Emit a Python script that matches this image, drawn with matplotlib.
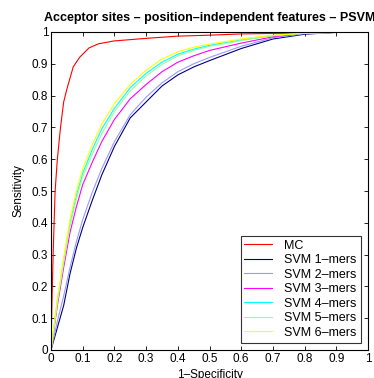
import matplotlib
matplotlib.use("Agg")
import matplotlib.pyplot as plt

plt.rcParams['font.family'] = ['Liberation Sans', 'DejaVu Sans']

mc_x = [0, 0.003, 0.007, 0.013, 0.02, 0.03, 0.04, 0.05, 0.07, 0.09, 0.12, 0.15, 0.2, 0.3, 0.4, 0.5, 0.6, 0.8, 1.0]
mc_y = [0, 0.15, 0.31, 0.50, 0.60, 0.70, 0.78, 0.82, 0.89, 0.92, 0.95, 0.963, 0.972, 0.98, 0.987, 0.99, 0.994, 0.997, 1.0]

svm_x = [0, 0.01, 0.02, 0.04, 0.06, 0.08, 0.1, 0.13, 0.16, 0.2, 0.25, 0.3, 0.35, 0.4, 0.45, 0.5, 0.6, 0.7, 0.8, 0.9, 1.0]
svm1_y = [0, 0.035, 0.07, 0.14, 0.24, 0.32, 0.385, 0.47, 0.55, 0.64, 0.73, 0.78, 0.83, 0.865, 0.89, 0.91, 0.948, 0.978, 0.993, 0.999, 1.0]
svm2_y = [0, 0.045, 0.09, 0.17, 0.26, 0.34, 0.41, 0.495, 0.57, 0.655, 0.74, 0.795, 0.84, 0.875, 0.9, 0.92, 0.955, 0.982, 0.995, 0.999, 1.0]
svm3_y = [0, 0.07, 0.14, 0.26, 0.37, 0.45, 0.52, 0.59, 0.655, 0.725, 0.79, 0.835, 0.875, 0.905, 0.925, 0.942, 0.965, 0.985, 0.996, 0.999, 1.0]
svm4_y = [0, 0.075, 0.155, 0.28, 0.40, 0.485, 0.555, 0.63, 0.695, 0.76, 0.825, 0.87, 0.905, 0.93, 0.946, 0.958, 0.975, 0.989, 0.996, 0.999, 1.0]
svm5_y = [0, 0.075, 0.15, 0.275, 0.39, 0.475, 0.545, 0.615, 0.68, 0.75, 0.815, 0.862, 0.898, 0.925, 0.942, 0.955, 0.973, 0.988, 0.996, 0.999, 1.0]
svm6_y = [0, 0.08, 0.16, 0.29, 0.41, 0.50, 0.57, 0.645, 0.71, 0.775, 0.835, 0.88, 0.915, 0.938, 0.952, 0.962, 0.978, 0.99, 0.996, 0.999, 1.0]

labels = ['MC', 'SVM 1\u2013mers', 'SVM 2\u2013mers', 'SVM 3\u2013mers', 'SVM 4\u2013mers', 'SVM 5\u2013mers', 'SVM 6\u2013mers']
colors = ['#ff0000', '#000080', '#9999ff', '#ff00ff', '#00ffff', '#99ff99', '#ffff00']
ticks = [0, 0.1, 0.2, 0.3, 0.4, 0.5, 0.6, 0.7, 0.8, 0.9, 1]
tick_labels = ['0', '0.1', '0.2', '0.3', '0.4', '0.5', '0.6', '0.7', '0.8', '0.9', '1']

fig = plt.figure(figsize=(3.74, 3.78), dpi=100)
ax = fig.add_axes([51/374, 1-350/378, 317/374, 318/378])

series = [(mc_x, mc_y)] + [(svm_x, y) for y in [svm1_y, svm2_y, svm3_y, svm4_y, svm5_y, svm6_y]]
for (xs, ys), lab, c in zip(series, labels, colors):
    ax.plot(xs, ys, color=c, lw=0.8, label=lab)

ax.set_xlim(0, 1)
ax.set_ylim(0, 1)
ax.set_xticks(ticks)
ax.set_xticklabels(tick_labels)
ax.set_yticks(ticks)
ax.set_yticklabels(tick_labels)
ax.tick_params(direction='in', top=True, right=True, labelsize=8.5, length=3, width=0.6, pad=2)
for s in ax.spines.values():
    s.set_linewidth(0.8)
ax.set_xlabel('1\u2013Specificity', fontsize=8.5, labelpad=3)
ax.set_ylabel('Sensitivity', fontsize=8.5, labelpad=5)
ax.set_title('Acceptor sites \u2013 position\u2013independent features \u2013 PSVM', fontsize=9, fontweight='bold', pad=8)

leg = ax.legend(loc='lower right', fontsize=9, frameon=True, fancybox=False, edgecolor='black',
                handlelength=2.2, borderpad=0.3, labelspacing=0.2, handletextpad=1.0, borderaxespad=0.6)
leg.get_frame().set_linewidth(0.8)

fig.savefig('out.png', dpi=100)
